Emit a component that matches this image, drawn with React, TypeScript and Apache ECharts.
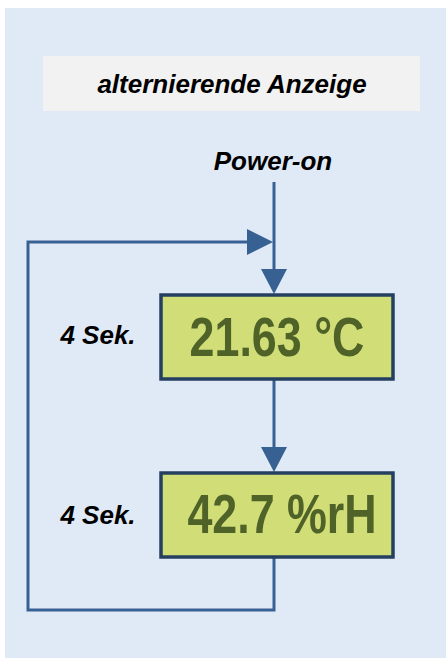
import React, { useEffect, useRef } from "react";
import * as echarts from "echarts";

const title = "alternierende Anzeige";
const startLabel = "Power-on";
const readings = ["21.63 °C", "42.7 %rH"];
const durations = ["4 Sek.", "4 Sek."];

const LINE = "#386193";
const BOX_BORDER = "#243F60";
const BOX_FILL = "#D1DE78";
const BOX_TEXT = "#4F6228";
const FAMILY = "'Liberation Sans', Arial, sans-serif";

export default function App() {
  const ref = useRef<HTMLDivElement>(null);
  useEffect(() => {
    const chart = echarts.init(ref.current!, null, { renderer: "svg" });
    const cx = 274;
    const boxes = [
      { x: 161, y: 295, w: 232, h: 84, tx: 277, ty: 337, ly: 335 },
      { x: 161, y: 473, w: 232, h: 84, tx: 282, ty: 514, ly: 515 },
    ];
    const label = (text: string, x: number, y: number, size: number) => ({
      type: "text", x, y,
      style: { text, fill: "#000", fontFamily: FAMILY, fontSize: size, fontWeight: "bold", fontStyle: "italic", align: "center", verticalAlign: "middle" },
    });
    const els: any[] = [
      { type: "rect", shape: { x: 5, y: 8, width: 441, height: 650 }, style: { fill: "#E0EAF6" } },
      { type: "rect", shape: { x: 43, y: 56, width: 377, height: 55 }, style: { fill: "#F2F2F2" } },
      label(title, 232, 84, 26),
      label(startLabel, 273, 161, 26),
      { type: "line", shape: { x1: cx, y1: 182, x2: cx, y2: 272 }, style: { stroke: LINE, lineWidth: 3 } },
      { type: "polygon", shape: { points: [[261, 269], [287, 269], [cx, 294]] }, style: { fill: LINE } },
      { type: "polyline", shape: { points: [[cx, 557], [cx, 610], [28, 610], [28, 242], [250, 242]] }, style: { stroke: LINE, lineWidth: 3, fill: null, lineJoin: "miter" } },
      { type: "polygon", shape: { points: [[247, 229], [247, 255], [273, 242]] }, style: { fill: LINE } },
      { type: "line", shape: { x1: cx, y1: 379, x2: cx, y2: 450 }, style: { stroke: LINE, lineWidth: 3 } },
      { type: "polygon", shape: { points: [[261, 447], [287, 447], [cx, 472]] }, style: { fill: LINE } },
    ];
    boxes.forEach((b, i) => {
      els.push({
        type: "rect", shape: { x: b.x, y: b.y, width: b.w, height: b.h },
        style: { fill: BOX_FILL, stroke: BOX_BORDER, lineWidth: 3.5 },
      });
      els.push({
        type: "text", x: b.tx, y: b.ty, scaleX: 0.8,
        style: { text: readings[i], fill: BOX_TEXT, fontFamily: FAMILY, fontSize: 56, fontWeight: "bold", align: "center", verticalAlign: "middle" },
      });
      els.push(label(durations[i], 98, b.ly, 26));
    });
    chart.setOption({ animation: false, graphic: { elements: els } });
    return () => chart.dispose();
  }, []);
  return <div ref={ref} style={{ position: "fixed", left: 0, top: 0, width: 446, height: 659, background: "#fff" }} />;
}
